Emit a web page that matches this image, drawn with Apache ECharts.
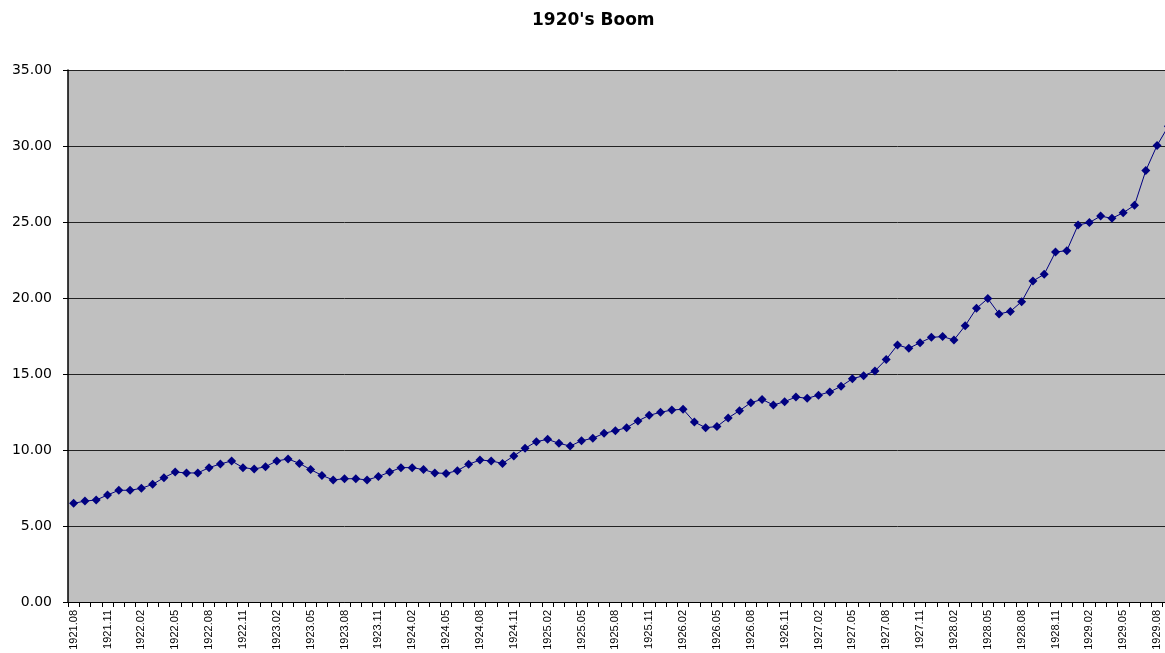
<!DOCTYPE html>
<html>
<head>
<meta charset="utf-8">
<script src="https://cdn.jsdelivr.net/npm/echarts@6/dist/echarts.min.js"></script>
<style>
html,body{margin:0;padding:0;background:#fff;overflow:hidden;width:1165px;height:653px;}
#chart{width:1175px;height:653px;}
</style>
</head>
<body>
<div id="chart"></div>
<script>
var categories = [
"1921.08","1921.09","1921.10","1921.11","1921.12",
"1922.01","1922.02","1922.03","1922.04","1922.05","1922.06","1922.07","1922.08","1922.09","1922.10","1922.11","1922.12",
"1923.01","1923.02","1923.03","1923.04","1923.05","1923.06","1923.07","1923.08","1923.09","1923.10","1923.11","1923.12",
"1924.01","1924.02","1924.03","1924.04","1924.05","1924.06","1924.07","1924.08","1924.09","1924.10","1924.11","1924.12",
"1925.01","1925.02","1925.03","1925.04","1925.05","1925.06","1925.07","1925.08","1925.09","1925.10","1925.11","1925.12",
"1926.01","1926.02","1926.03","1926.04","1926.05","1926.06","1926.07","1926.08","1926.09","1926.10","1926.11","1926.12",
"1927.01","1927.02","1927.03","1927.04","1927.05","1927.06","1927.07","1927.08","1927.09","1927.10","1927.11","1927.12",
"1928.01","1928.02","1928.03","1928.04","1928.05","1928.06","1928.07","1928.08","1928.09","1928.10","1928.11","1928.12",
"1929.01","1929.02","1929.03","1929.04","1929.05","1929.06","1929.07","1929.08","1929.09"
];

var values = [
6.49,6.64,6.71,7.04,7.35,
7.35,7.48,7.74,8.18,8.55,8.49,8.49,8.84,9.08,9.28,8.84,8.75,
8.90,9.28,9.41,9.12,8.71,8.33,8.03,8.11,8.11,8.03,8.25,8.55,
8.84,8.84,8.71,8.49,8.46,8.64,9.06,9.34,9.28,9.12,9.61,10.11,
10.55,10.70,10.44,10.26,10.61,10.77,11.10,11.27,11.47,11.91,12.28,12.48,
12.63,12.68,11.84,11.47,11.54,12.11,12.59,13.11,13.33,12.96,13.18,13.49,
13.40,13.61,13.82,14.19,14.69,14.89,15.20,15.96,16.91,16.69,17.06,17.41,
17.46,17.24,18.18,19.32,19.96,18.95,19.12,19.76,21.12,21.56,23.03,23.11,
24.80,24.96,25.39,25.24,25.61,26.10,28.38,30.04,31.30
];

var yMin = 0, yMax = 35, yStep = 5;
var titleText = "1920's Boom";

var chart = echarts.init(document.getElementById('chart'), null, {renderer:'canvas'});
chart.setOption({
  animation: false,
  backgroundColor: '#ffffff',
  title: {
    text: titleText,
    left: 527,
    top: 7,
    textStyle: {fontFamily: 'DejaVu Sans', fontSize: 17, fontWeight: 'bold', color: '#000'}
  },
  grid: {
    left: 68, top: 70, right: 1, bottom: 51,
    show: true, backgroundColor: '#C0C0C0', borderWidth: 0
  },
  xAxis: {
    type: 'category',
    data: categories,
    boundaryGap: true,
    axisLine: {show: true, lineStyle: {color: '#000', width: 1}},
    axisTick: {show: true, interval: 0, length: 5, lineStyle: {color: '#000'}},
    axisLabel: {
      interval: 2, rotate: 90, margin: 8,
      fontFamily: 'Liberation Sans', fontSize: 11, color: '#000'
    },
    splitLine: {show: false}
  },
  yAxis: {
    type: 'value',
    min: yMin, max: yMax, interval: yStep,
    axisLine: {show: true, lineStyle: {color: '#000', width: 1.5}},
    axisTick: {show: true, length: 5, lineStyle: {color: '#000'}},
    axisLabel: {
      margin: 16,
      fontFamily: 'DejaVu Sans', fontSize: 14, color: '#000',
      formatter: function (v) { return v.toFixed(2); }
    },
    splitLine: {show: true, lineStyle: {color: '#222', width: 1}}
  },
  series: [{
    type: 'line',
    data: values,
    symbol: 'diamond',
    symbolSize: 9,
    showAllSymbol: true,
    lineStyle: {color: '#000080', width: 1},
    itemStyle: {color: '#000080'},
    clip: false
  }]
});
</script>
</body>
</html>
